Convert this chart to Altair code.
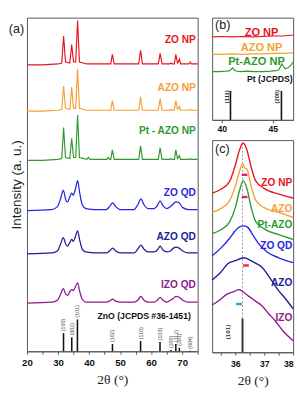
import altair as alt
import pandas as pd

# ---------------- Panel (a): XRD patterns (offset stacked) ----------------
np_x = [20, 25, 30, 31.2, 31.8, 32.4, 33.8, 34.4, 35.0, 35.7, 36.3, 36.9,
        39.3, 39.8, 40.3, 45.7, 46.2, 46.6, 47.0, 47.5, 48.1, 56.0, 56.6, 57.2,
        62.3, 62.9, 63.5, 66.0, 66.4, 66.8, 67.5, 67.95, 68.5, 68.8, 69.1, 69.5,
        72.2, 72.6, 73.0, 75]
zo_np = [0, 0, 1, 2, 30, 3, 2, 21, 3, 3, 46, 3, 1, 1, 1, 1, 1, 1, 1, 11,
         1, 1, 15, 1, 1, 12, 1, 1, 2, 1, 1, 11, 2, 3, 6, 1, 1, 3, 1, 1]
azo_np = [0, 0, 1, 2, 26, 3, 2, 25, 3, 3, 44, 3, 1, 1, 1, 1, 1, 1, 1, 11,
          1, 1, 15, 1, 1, 13, 1, 1, 2, 1, 1, 11, 2, 3, 5, 1, 1, 2, 1, 1]
pt_azo_np = [0, 0, 1, 2, 34, 3, 2, 23, 3, 3, 47, 3, 1, 3, 1, 1, 3, 1, 1, 11,
             1, 1, 15, 1, 1, 13, 1, 1, 2, 1, 1, 11, 2, 3, 5, 1, 1, 2, 1, 1]

qd_x = [20, 28, 29.8, 30.8, 31.7, 32.5, 33.1, 33.8, 34.4, 34.9, 35.6, 36.3,
        37.0, 37.8, 39, 42, 45.5, 46.6, 47.6, 48.6, 50, 54.5, 55.7, 56.7,
        57.7, 59, 61, 62.0, 62.9, 63.8, 65, 66.2, 67.2, 68.0, 69.0, 70.2, 72, 75]
zo_qd = [0, 1, 4, 12, 21, 11, 9, 14, 18, 16, 22, 31, 18, 6, 2, 1, 1, 4, 8, 4,
         1, 1, 6, 12, 6, 2, 2, 5, 10, 5, 2, 4, 7, 9, 8, 3, 1, 1]
azo_qd = [0, 1, 3, 10, 17, 10, 8, 12, 15, 13, 18, 24, 14, 5, 2, 1, 1, 3, 6, 3,
          1, 1, 5, 9, 5, 2, 2, 4, 8, 4, 2, 3, 6, 7, 6, 3, 1, 1]
izo_qd = [0, 1, 3, 9, 15, 9, 8, 12, 14, 13, 17, 21, 12, 4, 1, 1, 1, 2, 4, 2,
          1, 1, 3, 7, 3, 1, 1, 3, 6, 3, 1, 3, 5, 7, 6, 3, 1, 1]

series_names = ["ZO NP", "AZO NP", "Pt - AZO NP", "ZO QD", "AZO QD", "IZO QD"]
series_offsets = [297, 249, 198, 146, 101, 50]
series_colors = ["#e8141c", "#f5a033", "#2e9a2e", "#2626e4", "#1d1d9a", "#8c1a8c"]
label_lift = [26, 24, 30, 18, 17, 19]

ref_pos = [31.77, 34.42, 36.25, 47.54, 56.60, 62.86, 66.38, 67.96, 69.10, 72.56]
ref_int = [57, 44, 100, 23, 32, 29, 4, 23, 11, 2]
ref_hkl = ["(100)", "(002)", "(101)", "(102)", "(110)", "(103)", "(200)", "(112)", "(201)", "(004)"]

# ---------------- Panel (b): Pt region ----------------
b_flat_x = [39.05, 40, 41, 42, 43, 44, 45, 46, 47]
b_zo_np = [86, 86.5, 86, 86.5, 86, 86.5, 87, 87, 88]
b_azo_np = [68, 68, 68.5, 68, 68.5, 68.5, 69, 69, 69.5]
b_pt_x = [39.05, 39.8, 40.4, 40.8, 41.04, 41.3, 41.8, 42.5, 43.2, 44.0, 44.8,
          45.3, 45.6, 45.9, 46.2, 46.5, 46.8, 47.0]
b_pt_azo = [50, 50, 50.5, 51, 54, 51, 50, 50.5, 50, 50, 50.5, 51, 52, 58, 53, 54, 57, 60]
b_names = ["ZO NP", "AZO NP", "Pt-AZO NP"]
b_colors = ["#e8141c", "#f5a033", "#2e9a2e"]
b_label_x = [43.9, 43.9, 43.4]
b_label_y = [90, 74, 60]
pt_pos = [40.85, 45.85]
pt_hkl = ["(111)", "(200)"]
pt_height = [30, 30]

# ---------------- Panel (c): (101) peak ----------------
c_names = ["ZO NP", "AZO", "Pt-AZO", "ZO QD", "AZO", "IZO"]
c_colors = ["#e8141c", "#f5a033", "#2e9a2e", "#2626e4", "#1d1d9a", "#8c1a8c"]
c_x = [
    [35.2, 35.5, 35.8, 36.0, 36.15, 36.27, 36.4, 36.55, 36.7, 37.0, 37.5, 38.0],
    [35.2, 35.5, 35.8, 36.0, 36.15, 36.22, 36.27, 36.33, 36.4, 36.55, 36.7, 37.0, 37.5, 38.0],
    [35.2, 35.5, 35.8, 36.0, 36.15, 36.27, 36.4, 36.55, 36.7, 37.0, 37.5, 38.0],
    [35.2, 35.5, 35.8, 36.0, 36.15, 36.3, 36.45, 36.6, 36.8, 37.1, 37.5, 38.0],
    [35.2, 35.5, 35.75, 36.0, 36.3, 36.6, 36.93, 37.2, 37.47, 37.75, 38.0],
    [35.2, 35.45, 35.7, 35.95, 36.13, 36.3, 36.47, 36.7, 36.93, 37.15, 37.37, 37.65, 38.0],
]
c_y = [
    [165, 169, 177, 194, 210, 217, 210, 192, 178, 170, 164, 160],
    [145, 149, 157, 172, 188, 194, 195, 191, 190, 172, 158, 150, 145, 140],
    [123, 127, 135, 150, 168, 178, 170, 150, 136, 128, 122, 117],
    [100, 108, 118, 126, 130, 131, 129, 122, 113, 104, 98, 93],
    [75, 83, 92, 95, 98, 94, 88, 77, 65, 55, 45],
    [49, 54, 60, 63, 65, 62, 58, 53, 48, 40, 33, 22, 12],
]
c_label_y = [175, 148, 132, 110, 72, 35]
c_ref_pos = 36.25
c_ref_height = 35
shift_x1 = [36.22, 36.22, 36.27, 36.03]
shift_x2 = [36.42, 36.42, 36.47, 36.23]
shift_y = [184, 161, 90, 50]
shift_colors = ["#e0207a", "#e0207a", "#e82a3a", "#2aa0d8"]

# ================= build panel (a) =================
rows = []
for name, col, off, vals in zip(series_names[:3], series_colors[:3], series_offsets[:3],
                                [zo_np, azo_np, pt_azo_np]):
    for x, v in zip(np_x, vals):
        rows.append({"series": name, "c": col, "x": x, "y": off + v})
df_np = pd.DataFrame(rows)
rows = []
for name, col, off, vals in zip(series_names[3:], series_colors[3:], series_offsets[3:],
                                [zo_qd, azo_qd, izo_qd]):
    for x, v in zip(qd_x, vals):
        rows.append({"series": name, "c": col, "x": x, "y": off + v})
df_qd = pd.DataFrame(rows)

df_lab = pd.DataFrame({"t": series_names, "c": series_colors,
                       "x": [74.4] * 6,
                       "y": [o + l for o, l in zip(series_offsets, label_lift)]})
df_ref = pd.DataFrame({"x": ref_pos, "I": ref_int, "hkl": ref_hkl})

XA = alt.X("x:Q", scale=alt.Scale(domain=[20, 75], nice=False, zero=False),
           axis=alt.Axis(title="2θ (°)", values=list(range(20, 76, 5)),
                         labelExpr="datum.value % 10 == 0 ? format(datum.value, 'd') : ''",
                         labelFontSize=10, labelFontWeight="bold", labelPadding=4,
                         tickSize=3, titlePadding=5, labelFlush=False))
YA = alt.Y("y:Q", scale=alt.Scale(domain=[0, 346], nice=False, zero=False),
           axis=alt.Axis(title="Intensity (a. u.)", labels=False, ticks=False, domain=False,
                         titleFont="Liberation Sans", titleFontSize=14, titlePadding=4))

a_np = alt.Chart(df_np).mark_line(strokeWidth=1.2).encode(
    x=XA, y=YA, color=alt.Color("c:N", scale=None), detail="series:N")
a_qd = alt.Chart(df_qd).mark_line(strokeWidth=1.3, interpolate="monotone").encode(
    x=XA, y=YA, color=alt.Color("c:N", scale=None), detail="series:N")
a_ref = alt.Chart(df_ref).transform_calculate(y="0", y2="datum.I * 0.33").mark_rule(
    color="#111", strokeWidth=1.6).encode(x=XA, y=YA, y2="y2:Q")
a_hkl = alt.Chart(df_ref).transform_calculate(y="datum.I * 0.33").mark_text(
    angle=270, align="left", baseline="middle", dx=2, fontSize=5.5, color="#555",
    font="Liberation Sans").encode(x=XA, y=YA, text="hkl:N")
a_lab = alt.Chart(df_lab).mark_text(align="right", baseline="middle", fontSize=10.5,
                                    fontWeight="bold", font="Liberation Sans").encode(
    x=XA, y=YA, text="t:N", color=alt.Color("c:N", scale=None))
a_jc = alt.Chart(pd.DataFrame({"t": ["ZnO (JCPDS #36-1451)"], "x": [72.8], "y": [37]})).mark_text(
    align="right", baseline="middle", fontSize=9, fontWeight="bold", color="#111",
    font="Liberation Sans").encode(x=XA, y=YA, text="t:N")
a_tag = alt.Chart(pd.DataFrame({"t": ["(a)"]})).mark_text(
    align="center", baseline="middle", fontSize=13, color="#222", font="Liberation Sans").encode(
    x=alt.value(-11), y=alt.value(12), text="t:N")

panel_a = alt.layer(a_np, a_qd, a_ref, a_hkl, a_lab, a_jc, a_tag).properties(width=177, height=346)

# ================= build panel (b) =================
rows = []
for name, col, xs, ys in zip(b_names, b_colors, [b_flat_x, b_flat_x, b_pt_x],
                             [b_zo_np, b_azo_np, b_pt_azo]):
    for x, v in zip(xs, ys):
        rows.append({"series": name, "c": col, "x": x, "y": v})
df_b = pd.DataFrame(rows)
df_blab = pd.DataFrame({"t": b_names, "c": b_colors, "x": b_label_x, "y": b_label_y})
df_pt = pd.DataFrame({"x": pt_pos, "h": pt_height, "hkl": pt_hkl})

XB = alt.X("x:Q", scale=alt.Scale(domain=[39.05, 47], nice=False, zero=False),
           axis=alt.Axis(title=None, values=[40, 45], labelFontSize=9, labelFontWeight="bold",
                         tickSize=3, labelPadding=2))
YB = alt.Y("y:Q", scale=alt.Scale(domain=[0, 106], nice=False, zero=False), axis=None)

b_lines = alt.Chart(df_b).mark_line(strokeWidth=1.2).encode(
    x=XB, y=YB, color=alt.Color("c:N", scale=None), detail="series:N")
b_st = alt.Chart(df_pt).transform_calculate(y="0", y2="datum.h").mark_rule(
    color="#111", strokeWidth=1.6).encode(x=XB, y=YB, y2="y2:Q")
b_hkl = alt.Chart(df_pt).transform_calculate(y="24").mark_text(
    angle=270, align="center", baseline="middle", dy=-4, fontSize=6, color="#333",
    fontWeight="bold", font="Liberation Sans").encode(x=XB, y=YB, text="hkl:N")
b_lab = alt.Chart(df_blab).mark_text(align="center", baseline="middle", fontSize=11.5,
                                     fontWeight="bold", font="Liberation Sans").encode(
    x=XB, y=YB, text="t:N", color=alt.Color("c:N", scale=None))
b_jc = alt.Chart(pd.DataFrame({"t": ["Pt (JCPDS)"], "x": [46.95], "y": [42]})).mark_text(
    align="right", baseline="middle", fontSize=9, fontWeight="bold", color="#111",
    font="Liberation Sans").encode(x=XB, y=YB, text="t:N")
b_tag = alt.Chart(pd.DataFrame({"t": ["(b)"]})).mark_text(
    align="left", baseline="middle", fontSize=13, color="#222", font="Liberation Sans").encode(
    x=alt.value(3), y=alt.value(8), text="t:N")
panel_b = alt.layer(b_lines, b_st, b_hkl, b_lab, b_jc, b_tag).properties(width=84, height=106)

# ================= build panel (c) =================
rows = []
for i, (name, col, xs, ys) in enumerate(zip(c_names, c_colors, c_x, c_y)):
    for x, v in zip(xs, ys):
        rows.append({"series": f"{i}", "c": col, "x": x, "y": v})
df_c = pd.DataFrame(rows)
df_clab = pd.DataFrame({"t": c_names, "c": c_colors, "x": [37.97] * 6, "y": c_label_y})
df_shift = pd.DataFrame({"x": shift_x1, "x2": shift_x2, "y": shift_y, "c": shift_colors})

XC = alt.X("x:Q", scale=alt.Scale(domain=[35.2, 38], nice=False, zero=False),
           axis=alt.Axis(title="2θ (°)", values=[35.5, 36, 36.5, 37, 37.5, 38],
                         labelExpr="datum.value % 1 == 0 ? format(datum.value, 'd') : ''",
                         labelFontSize=9, labelFontWeight="bold", tickSize=3,
                         labelPadding=5, titlePadding=5, labelFlush=True))
YC = alt.Y("y:Q", scale=alt.Scale(domain=[0, 220], nice=False, zero=False), axis=None)

c_lines = alt.Chart(df_c).mark_line(strokeWidth=1.4, interpolate="monotone").encode(
    x=XC, y=YC, color=alt.Color("c:N", scale=None), detail="series:N")
c_dot = alt.Chart(pd.DataFrame({"x": [c_ref_pos]})).transform_calculate(
    y=str(c_ref_height), y2="220").mark_rule(color="#999", strokeDash=[2, 2], strokeWidth=1).encode(
    x=XC, y=YC, y2="y2:Q")
c_st = alt.Chart(pd.DataFrame({"x": [c_ref_pos], "h": [c_ref_height]})).transform_calculate(
    y="0", y2="datum.h").mark_rule(color="#333", strokeWidth=2).encode(x=XC, y=YC, y2="y2:Q")
c_hkl = alt.Chart(pd.DataFrame({"x": [c_ref_pos], "t": ["(101)"]})).transform_calculate(
    y="21").mark_text(angle=270, align="center", baseline="middle", dy=-15, fontSize=6.5,
                      color="#333", fontWeight="bold", font="Liberation Sans").encode(
    x=XC, y=YC, text="t:N")
c_shift = alt.Chart(df_shift).mark_rule(strokeWidth=2.5).encode(
    x=XC, x2="x2:Q", y=YC, color=alt.Color("c:N", scale=None))
c_lab = alt.Chart(df_clab).mark_text(align="right", baseline="middle", fontSize=10.5,
                                     fontWeight="bold", font="Liberation Sans").encode(
    x=XC, y=YC, text="t:N", color=alt.Color("c:N", scale=None))
c_tag = alt.Chart(pd.DataFrame({"t": ["(c)"]})).mark_text(
    align="left", baseline="middle", fontSize=13, color="#222", font="Liberation Sans").encode(
    x=alt.value(3), y=alt.value(9), text="t:N")
panel_c = alt.layer(c_dot, c_st, c_hkl, c_lines, c_shift, c_lab, c_tag).properties(width=84, height=220)

right = alt.vconcat(panel_b, panel_c, spacing=5)
chart = alt.hconcat(panel_a, right, spacing=7).properties(
    padding={"left": 8, "top": 10, "right": 0, "bottom": 0}
).configure_view(stroke="#555", strokeWidth=1).configure_axis(
    grid=False, labelFont="Liberation Sans", labelColor="#111", tickColor="#555",
    domainColor="#555", titleFont="Liberation Serif", titleFontWeight="normal",
    titleFontSize=14, titleColor="#222"
).configure_concat(spacing=7)

chart.save("out.html", embed_options={"renderer": "svg", "actions": False})
